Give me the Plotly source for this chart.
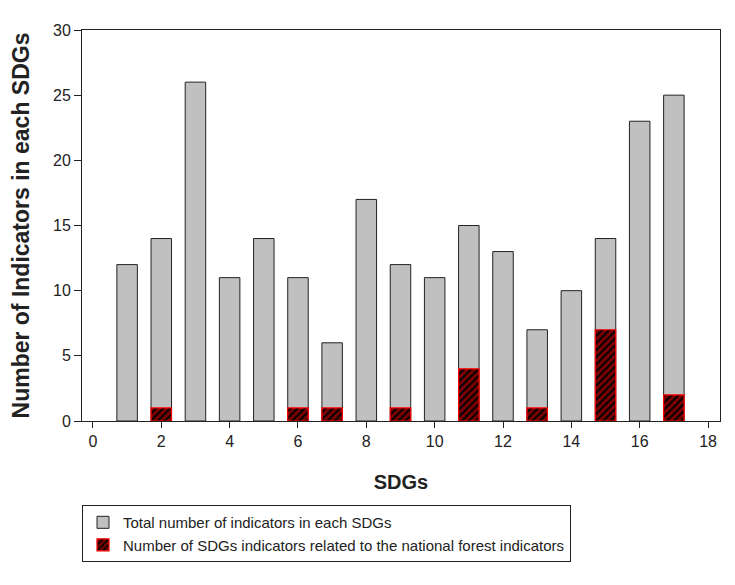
import plotly.graph_objects as go

sdgs = list(range(1, 18))
total = [12, 14, 26, 11, 14, 11, 6, 17, 12, 11, 15, 13, 7, 10, 14, 23, 25]
related = [0, 1, 0, 0, 0, 1, 1, 0, 1, 0, 4, 0, 1, 0, 7, 0, 2]

font = "Liberation Sans"

fig = go.Figure()
fig.add_trace(go.Bar(
    x=sdgs, y=total, width=0.6,
    name="Total number of indicators in each SDGs",
    marker=dict(color="#c0c0c0", line=dict(color="#222222", width=1)),
))
fig.add_trace(go.Bar(
    x=sdgs, y=[v if v else None for v in related], width=0.6,
    name="Number of SDGs indicators related to the national forest indicators",
    marker=dict(color="#6b0000", line=dict(color="#ff0000", width=1.2),
                pattern=dict(shape="/", bgcolor="#7a0000", fgcolor="#000000",
                             size=5, solidity=0.4, fillmode="replace")),
))

fig.update_layout(
    barmode="overlay",
    width=727, height=577,
    margin=dict(l=74, r=15, t=22, b=164),
    plot_bgcolor="white", paper_bgcolor="white",
    font=dict(family=font, size=16, color="#222222"),
    showlegend=True,
    legend=dict(x=0, y=-0.215, xanchor="left", yanchor="top",
                bordercolor="#222222", borderwidth=1,
                font=dict(size=15, family=font, color="#222222"),
                tracegroupgap=0),
    xaxis=dict(range=[-0.32, 18.35], tickmode="array", tickvals=list(range(0, 19, 2)),
               ticks="outside", ticklen=6, tickcolor="#222222", automargin=False,
               showline=True, linecolor="#222222", linewidth=1, mirror=True,
               showgrid=False, zeroline=False,
               title=dict(text="<b>SDGs</b>", font=dict(size=20, family=font), standoff=25)),
    yaxis=dict(range=[0, 30], tickmode="array", tickvals=list(range(0, 31, 5)),
               ticks="outside", ticklen=7, tickcolor="#222222", automargin=False,
               showline=True, linecolor="#222222", linewidth=1, mirror=True,
               showgrid=False, zeroline=False,
               title=dict(text="<b>Number of Indicators in each SDGs</b>",
                          font=dict(size=23, family=font), standoff=16)),
)

fig.write_html("out.html")
